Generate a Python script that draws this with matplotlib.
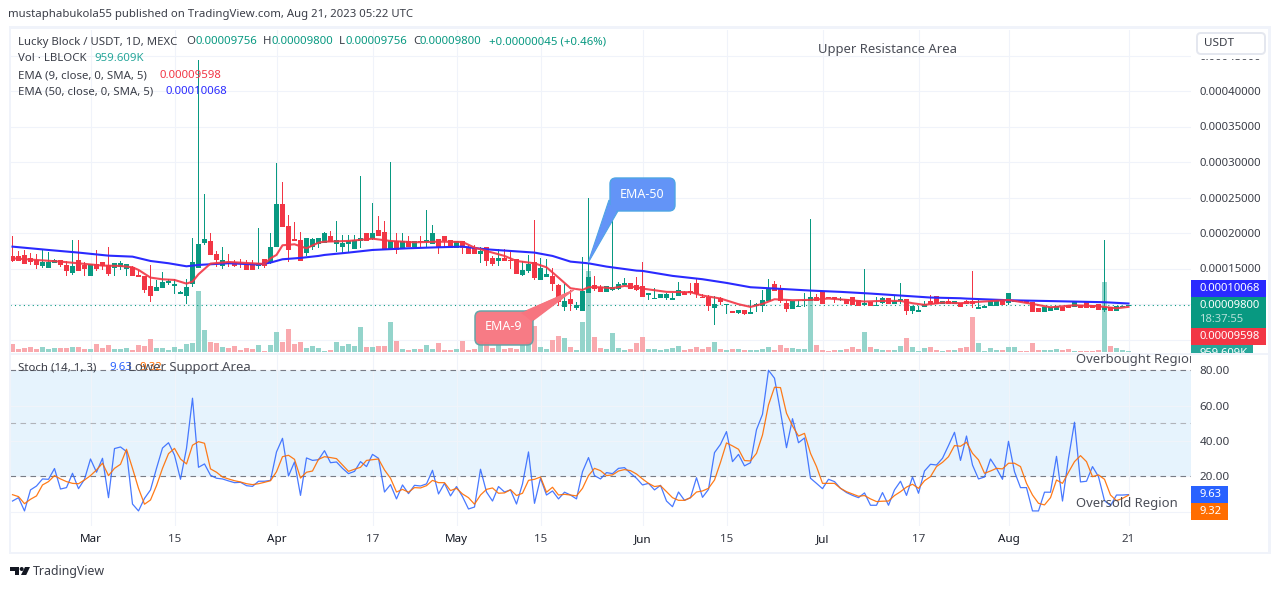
# -*- coding: utf-8 -*-
import numpy as np
import matplotlib
matplotlib.use("Agg")
from matplotlib import pyplot as plt
from matplotlib.patches import FancyBboxPatch, Polygon, Rectangle, Circle

plt.rcParams['font.family'] = ['Noto Sans', 'DejaVu Sans']

# prices are in units of 0.00001 USDT, one entry per day from 16 Feb 2023
opens = [
    16.77, 16.77, 16.91, 16.44, 16.20, 15.36, 15.08, 15.78, 16.20, 15.50,
    14.37, 16.20, 15.50, 13.95, 15.64, 15.92, 15.50, 15.08, 15.22, 14.94,
    15.22, 14.09, 13.95, 12.55, 11.84, 12.26, 12.97, 12.59, 11.42, 11.14,
    12.83, 15.08, 18.60, 18.88, 17.05, 15.36, 15.92, 15.92, 15.78, 15.64,
    15.64, 15.36, 16.34, 15.78, 18.03, 24.08, 20.99, 19.16, 19.02, 17.19,
    18.03, 18.46, 18.60, 19.58, 18.46, 18.03, 18.46, 17.75, 18.88, 20.00,
    19.16, 20.43, 20.14, 17.75, 18.88, 17.89, 18.88, 18.03, 18.88, 18.74,
    18.46, 19.16, 19.58, 19.02, 17.89, 18.88, 18.03, 18.03, 17.05, 18.03,
    16.49, 16.06, 16.49, 16.20, 16.34, 14.09, 14.66, 15.92, 13.39, 13.81,
    13.95, 12.69, 9.59, 10.72, 9.45, 9.03, 11.56, 12.69, 12.41, 11.70,
    11.98, 12.12, 12.69, 12.97, 12.69, 12.55, 11.28, 10.72, 10.86, 10.86,
    10.58, 11.14, 11.71, 11.85, 12.97, 11.00, 11.00, 9.45, 10.86, 9.88,
    9.03, 8.75, 9.17, 8.61, 9.74, 9.74, 10.44, 12.83, 12.13, 10.16,
    9.31, 9.59, 10.44, 10.44, 11.00, 11.85, 11.00, 11.00, 10.58, 10.72,
    11.00, 10.58, 9.88, 10.30, 9.74, 10.16, 10.86, 10.02, 10.44, 10.72,
    9.03, 8.89, 9.59, 10.44, 11.14, 10.02, 10.44, 10.02, 10.16, 10.43,
    10.43, 9.31, 9.45, 9.73, 9.73, 10.57, 10.15, 10.29, 10.57, 10.57,
    10.29, 9.45, 8.89, 9.03, 9.17, 9.59, 9.87, 9.59, 9.87, 10.29,
    9.87, 10.01, 9.17, 9.59, 9.03, 9.59, 9.756]
highs = [
    19.58, 17.52, 17.61, 17.19, 17.05, 17.61, 17.33, 16.34, 16.20, 16.06,
    19.02, 19.02, 15.92, 15.64, 17.61, 15.92, 18.03, 15.78, 16.06, 15.64,
    15.36, 14.80, 13.95, 15.50, 13.39, 14.52, 13.53, 13.53, 11.84, 13.53,
    19.30, 44.40, 25.49, 20.00, 17.47, 18.03, 17.05, 16.20, 16.34, 16.20,
    16.20, 20.71, 16.34, 20.00, 29.90, 27.18, 22.54, 21.55, 20.14, 19.30,
    19.30, 19.30, 20.14, 20.28, 21.69, 19.72, 19.72, 19.72, 28.00, 20.00,
    24.22, 22.39, 21.69, 30.00, 20.00, 20.00, 19.58, 18.88, 19.58, 23.24,
    21.13, 19.16, 19.58, 19.02, 18.88, 18.88, 18.31, 18.31, 18.03, 18.03,
    16.77, 17.75, 17.75, 17.61, 16.34, 16.06, 16.91, 21.83, 16.49, 16.34,
    15.08, 12.83, 12.83, 11.98, 10.29, 16.62, 24.93, 13.95, 12.69, 12.55,
    23.38, 13.11, 13.67, 12.97, 13.81, 15.93, 11.56, 12.27, 11.42, 11.56,
    11.56, 13.11, 11.85, 12.97, 13.53, 11.42, 11.28, 11.14, 11.00, 10.02,
    9.03, 9.17, 9.17, 10.58, 10.16, 11.99, 13.53, 13.25, 12.69, 10.58,
    10.44, 10.58, 11.56, 21.98, 11.42, 11.85, 11.00, 11.00, 11.00, 10.72,
    11.00, 10.58, 14.94, 10.30, 11.00, 11.00, 10.86, 11.28, 12.97, 10.72,
    9.74, 9.74, 10.44, 11.28, 11.14, 10.44, 10.86, 10.44, 10.16, 10.57,
    14.65, 10.71, 9.73, 10.43, 10.43, 10.57, 11.56, 10.57, 10.57, 10.57,
    10.29, 9.45, 9.59, 9.59, 9.73, 9.59, 9.87, 10.29, 9.87, 10.29,
    9.87, 10.01, 19.02, 9.59, 9.73, 9.73, 9.80]
lows = [
    15.92, 16.06, 15.64, 15.55, 14.94, 15.08, 15.08, 15.78, 15.22, 13.95,
    14.09, 14.66, 13.95, 13.95, 14.66, 14.80, 13.95, 13.95, 14.80, 13.95,
    13.95, 13.81, 11.51, 10.29, 11.84, 12.26, 12.64, 11.42, 11.42, 10.01,
    12.41, 15.08, 18.31, 16.91, 15.22, 14.94, 15.22, 15.22, 15.08, 14.80,
    14.80, 14.94, 15.08, 15.64, 18.03, 20.85, 15.92, 18.88, 16.06, 16.77,
    17.61, 17.89, 18.60, 18.74, 17.33, 17.19, 17.19, 17.75, 17.89, 18.88,
    19.02, 19.58, 17.75, 17.75, 17.05, 17.89, 18.03, 18.03, 17.89, 18.03,
    18.46, 17.05, 18.03, 17.89, 17.89, 17.05, 17.05, 17.05, 15.78, 15.36,
    15.36, 15.36, 16.06, 14.94, 14.23, 13.95, 14.37, 13.39, 13.39, 13.81,
    11.84, 9.73, 9.03, 9.03, 9.17, 9.03, 11.56, 11.84, 11.70, 11.70,
    11.84, 11.98, 12.55, 12.12, 11.84, 11.00, 10.58, 10.72, 10.86, 10.58,
    10.58, 11.14, 11.28, 11.28, 10.86, 10.86, 9.03, 7.06, 9.88, 8.61,
    8.75, 8.61, 8.47, 8.61, 8.89, 8.89, 10.44, 11.85, 10.16, 8.89,
    9.31, 9.59, 9.59, 10.44, 10.44, 10.02, 10.86, 10.16, 10.44, 10.02,
    9.88, 9.74, 9.88, 9.74, 9.74, 10.02, 10.02, 10.02, 10.02, 8.47,
    8.61, 8.89, 9.59, 10.02, 10.02, 10.02, 10.02, 10.02, 9.59, 10.01,
    9.45, 9.31, 9.45, 9.73, 9.73, 9.87, 9.87, 10.29, 10.29, 10.15,
    8.89, 8.89, 8.89, 9.03, 9.17, 9.03, 9.45, 9.59, 9.45, 9.45,
    9.45, 9.17, 8.89, 9.03, 9.03, 9.59, 9.756]
closes = [
    16.06, 16.06, 15.64, 15.92, 15.50, 15.87, 15.92, 16.20, 15.50, 14.66,
    15.36, 14.66, 14.94, 15.64, 14.94, 15.36, 14.23, 15.78, 15.78, 15.64,
    13.95, 13.81, 11.98, 11.14, 12.41, 13.11, 13.25, 12.78, 11.70, 12.41,
    15.92, 18.46, 19.16, 16.91, 16.20, 16.20, 15.78, 15.36, 15.64, 14.80,
    14.80, 15.78, 15.36, 18.03, 24.08, 20.85, 17.61, 18.88, 16.06, 19.30,
    19.16, 19.30, 20.00, 18.74, 19.02, 18.60, 18.88, 19.02, 19.30, 18.88,
    20.00, 19.58, 17.75, 18.88, 17.61, 18.88, 18.03, 18.88, 18.74, 19.02,
    20.00, 17.89, 18.88, 17.89, 18.88, 17.89, 17.05, 17.05, 17.47, 16.06,
    15.64, 16.49, 16.06, 16.06, 14.23, 14.80, 15.64, 13.67, 15.08, 14.23,
    12.83, 10.29, 10.44, 10.01, 9.87, 11.84, 13.81, 12.12, 11.70, 12.55,
    12.41, 12.83, 12.97, 12.12, 11.98, 11.00, 11.56, 10.86, 11.42, 11.42,
    10.86, 11.99, 11.28, 11.56, 11.42, 10.86, 9.74, 10.02, 10.30, 10.02,
    8.75, 9.17, 8.61, 8.89, 10.02, 10.58, 12.32, 11.85, 10.44, 9.31,
    10.44, 9.74, 10.58, 11.00, 10.44, 10.02, 10.86, 10.72, 10.72, 10.02,
    9.88, 9.74, 10.16, 9.74, 9.88, 10.86, 10.02, 10.44, 10.72, 9.03,
    9.74, 9.17, 10.02, 10.02, 10.02, 10.44, 10.02, 10.44, 9.59, 10.01,
    10.01, 9.59, 9.73, 10.43, 10.43, 9.87, 11.56, 10.57, 10.29, 10.15,
    8.89, 8.89, 9.59, 9.59, 9.73, 9.03, 9.45, 10.29, 9.45, 9.45,
    9.45, 9.17, 9.59, 9.03, 9.73, 9.73, 9.80]
# volume in millions
volumes = [
    7.2, 3.0, 3.6, 4.5, 2.7, 4.5, 2.7, 3.6, 3.6, 3.6,
    4.5, 4.5, 2.7, 2.7, 7.2, 3.6, 6.3, 2.7, 2.7, 3.6,
    1.8, 6.3, 5.4, 11.7, 3.6, 3.6, 1.8, 4.5, 2.7, 7.2,
    8.1, 54.9, 19.8, 9.0, 8.1, 4.5, 3.6, 5.4, 1.8, 3.6,
    2.7, 6.3, 0.9, 6.3, 18.0, 9.0, 20.7, 7.2, 9.0, 3.6,
    5.4, 3.6, 0.9, 1.8, 9.0, 5.4, 7.2, 5.4, 22.5, 4.5,
    4.5, 5.4, 5.4, 27.0, 9.9, 2.7, 1.8, 2.7, 2.7, 6.3,
    2.7, 8.1, 1.8, 1.8, 2.7, 9.9, 1.8, 2.7, 9.9, 9.0,
    3.6, 6.3, 2.7, 3.6, 2.7, 6.0, 9.0, 23.4, 4.5, 2.7,
    10.8, 14.4, 12.6, 4.5, 1.8, 27.0, 72.9, 13.5, 3.6, 2.7,
    17.1, 3.6, 1.8, 2.7, 8.1, 13.5, 2.7, 2.7, 1.8, 2.7,
    3.6, 5.4, 1.8, 2.7, 4.5, 2.7, 4.5, 9.0, 2.7, 1.8,
    2.7, 2.7, 1.8, 1.8, 1.8, 2.7, 4.5, 1.8, 6.3, 3.6,
    3.6, 2.7, 2.7, 45.9, 6.3, 1.8, 0.9, 1.8, 1.8, 2.7,
    4.5, 2.7, 18.0, 4.5, 2.7, 1.8, 1.8, 1.8, 5.4, 12.6,
    4.5, 0.9, 3.6, 4.5, 1.8, 0.9, 1.8, 1.8, 3.6, 4.5,
    31.5, 8.1, 0.9, 3.6, 1.8, 1.8, 4.5, 4.5, 0.9, 0.9,
    8.1, 1.8, 1.8, 1.8, 2.7, 1.8, 2.7, 0.9, 0.9, 0.9,
    0.9, 1.8, 63.0, 5.4, 3.6, 1.8, 0.96]

ema50_days = [0, 6, 11, 16, 20, 23, 26, 29, 31, 36, 41, 43, 45, 48, 51, 52, 56, 60, 66, 71, 75, 79,
              83, 87, 90, 93, 96, 99, 104, 105, 110, 115, 119, 123, 128, 133, 138, 143, 148, 153,
              158, 159, 166, 172, 177, 182, 186]
ema50 = [18.08, 17.61, 17.24, 16.81, 16.67, 16.06, 15.74, 15.31, 15.50, 15.74, 15.55, 15.83, 16.30,
         16.49, 16.77, 16.91, 17.24, 17.61, 17.85, 17.99, 18.08, 17.70, 17.47, 17.24, 16.77, 15.97,
         15.73, 15.27, 14.70, 14.66, 13.96, 13.49, 12.97, 12.36, 12.13, 11.89, 11.71, 11.47, 11.19,
         10.91, 10.81, 10.76, 10.53, 10.43, 10.34, 10.25, 10.07]
ema9_days = [0, 4, 8, 11, 15, 18, 20, 21, 23, 25, 27, 29, 30, 31, 33, 36, 40, 42, 43, 44, 45, 47, 49,
             51, 52, 56, 60, 63, 67, 71, 75, 77, 79, 82, 84, 87, 89, 91, 93, 95, 96, 98, 100, 102,
             104, 105, 109, 113, 115, 118, 121, 123, 125, 127, 130, 133, 136, 139, 142, 145, 148,
             150, 152, 155, 158, 160, 166, 170, 173, 177, 181, 184, 186]
ema9 = [16.44, 16.20, 15.97, 15.73, 15.41, 15.36, 15.17, 14.80, 13.72, 13.48, 13.39, 12.87, 13.15,
        14.19, 15.69, 15.92, 15.73, 15.64, 16.44, 16.91, 18.27, 18.41, 17.85, 18.64, 18.78, 18.88,
        19.20, 18.88, 18.69, 18.78, 18.74, 17.94, 17.47, 16.77, 16.06, 15.73, 15.17, 13.72, 12.22,
        11.98, 12.36, 12.36, 12.22, 12.55, 12.36, 12.17, 11.71, 11.66, 11.19, 10.77, 9.97, 9.59,
        10.02, 10.67, 10.53, 10.58, 10.77, 10.58, 10.35, 10.44, 10.44, 10.11, 9.88, 10.20, 10.11,
        10.25, 10.57, 10.01, 9.54, 9.82, 9.68, 9.40, 9.598]

stoch_k = [
    6.0, 7.9, 0.4, 12.3, 14.5, 18.5, 18.3, 24.4, 12.8, 13.6,
    21.7, 13.0, 18.3, 29.8, 22.3, 30.2, 7.9, 35.7, 36.6, 34.0,
    4.3, 0.4, 7.5, 12.3, 24.5, 36.0, 39.0, 32.0, 18.3, 35.8,
    64.2, 25.1, 27.0, 20.6, 18.9, 18.5, 17.4, 16.4, 16.6, 14.7,
    14.3, 17.2, 17.2, 17.7, 33.8, 41.5, 20.2, 28.1, 9.2, 30.4,
    29.0, 29.4, 34.5, 27.7, 28.1, 24.5, 21.5, 22.8, 28.3, 25.5,
    32.4, 30.2, 11.1, 15.3, 7.2, 15.1, 10.2, 14.9, 14.5, 15.7,
    23.4, 10.0, 16.0, 8.9, 14.2, 8.5, 1.5, 2.6, 24.0, 11.1,
    6.0, 14.2, 11.1, 12.3, 4.3, 15.7, 33.8, 4.7, 18.9, 9.4,
    11.7, 7.2, 11.0, 9.4, 7.2, 22.6, 30.6, 20.4, 18.5, 22.1,
    21.5, 24.5, 24.9, 21.7, 18.9, 15.1, 16.0, 12.3, 14.9, 6.0,
    2.8, 11.1, 6.4, 7.9, 19.2, 8.1, 12.6, 33.4, 38.1, 45.3,
    28.3, 32.4, 25.9, 27.7, 46.4, 55.1, 80.0, 75.5, 56.6, 36.2,
    52.6, 39.0, 41.7, 18.9, 16.0, 13.0, 18.3, 17.0, 13.2, 10.8,
    9.2, 7.9, 10.6, 3.6, 3.6, 10.8, 3.6, 12.3, 17.2, 9.2,
    19.6, 10.4, 23.0, 26.8, 26.4, 30.2, 37.4, 44.9, 29.0, 42.8,
    26.4, 18.5, 19.6, 29.8, 24.5, 18.3, 39.8, 22.6, 13.6, 13.6,
    0.4, 0.4, 11.0, 11.0, 31.3, 6.0, 30.2, 50.6, 16.8, 17.2,
    25.5, 19.8, 6.2, 3.4, 9.4, 9.4, 9.63]
stoch_d = [
    9.6, 8.5, 4.5, 7.0, 8.9, 15.1, 17.0, 20.4, 18.5, 17.0,
    16.0, 15.8, 17.9, 20.4, 23.6, 27.4, 20.4, 24.5, 26.8, 35.3,
    24.5, 13.2, 4.2, 6.6, 14.7, 24.5, 32.8, 35.8, 29.8, 27.0,
    37.6, 39.6, 38.7, 24.2, 22.3, 19.6, 18.5, 17.5, 16.8, 15.8,
    15.3, 15.8, 16.6, 17.5, 22.6, 31.1, 31.9, 29.6, 19.0, 22.3,
    23.0, 29.6, 31.1, 30.6, 30.0, 26.4, 22.8, 24.0, 25.1, 29.0,
    29.4, 29.8, 23.6, 18.9, 11.1, 12.6, 11.0, 13.6, 13.4, 14.7,
    17.7, 16.4, 16.4, 11.9, 13.2, 10.0, 7.9, 4.2, 9.4, 12.6,
    13.4, 10.4, 10.6, 12.4, 9.1, 10.4, 17.7, 18.3, 19.6, 11.0,
    13.8, 9.4, 9.8, 9.4, 8.9, 13.2, 20.4, 24.5, 23.2, 20.4,
    20.8, 23.0, 23.8, 23.2, 21.3, 18.5, 16.0, 14.2, 14.7, 11.3,
    7.9, 6.4, 6.4, 7.9, 11.1, 11.7, 13.2, 17.9, 27.9, 38.9,
    37.2, 35.3, 28.9, 28.7, 33.0, 43.4, 60.4, 70.4, 70.2, 55.7,
    48.5, 42.8, 44.3, 33.0, 25.5, 16.0, 16.0, 16.0, 13.2, 11.3,
    10.0, 8.7, 9.1, 7.2, 5.7, 5.9, 6.0, 9.1, 11.3, 13.9,
    15.5, 13.2, 17.5, 19.8, 25.5, 27.9, 31.1, 37.4, 37.0, 39.3,
    33.0, 29.3, 21.7, 23.0, 24.5, 24.2, 27.4, 27.4, 25.5, 16.0,
    9.4, 4.7, 3.8, 7.9, 17.9, 16.0, 22.3, 28.3, 31.7, 28.3,
    19.8, 20.8, 18.3, 9.4, 6.2, 7.5, 9.32]

date_ticks = [13, 27, 44, 60, 74, 88, 105, 119, 135, 151, 166, 186]
date_labels = ['Mar', '15', 'Apr', '17', 'May', '15', 'Jun', '15', 'Jul', '17', 'Aug', '21']
month_labels = ['Mar', 'Apr', 'May', 'Jun', 'Jul', 'Aug']
price_ticks = [5, 10, 15, 20, 25, 30, 35, 40, 45]
stoch_ticks = [0, 20, 40, 60, 80]
stoch_labels = ['', '20.00', '40.00', '60.00', '80.00']

UP = '#089981'
DOWN = '#F23645'
GRID = '#F0F3FA'
TEXT = '#3B3E48'
W, H = 1281., 589.
opens, highs, lows, closes = map(np.array, (opens, highs, lows, closes))
volumes = np.array(volumes)
days = np.arange(len(closes))


def rect(x0, y0, x1, y1):
    return [x0 / W, 1 - y1 / H, (x1 - x0) / W, (y1 - y0) / H]


fig = plt.figure(figsize=(12.81, 5.89), dpi=100, facecolor='white')

# price pane: 6 px a day, 35.5 px per 0.00005
ax = fig.add_axes(rect(10, 30, 1191, 353))
px_price = 5 / 35.5
ax.set_xlim((10 - 12.5) / 6, (1191 - 12.5) / 6)
ax.set_ylim(20 - (353 - 233) * px_price, 20 + (233 - 30) * px_price)
for s in ax.spines.values():
    s.set_visible(False)
ax.set_axisbelow(True)
ax.grid(True, color=GRID, lw=0.8)
ax.set_xticks(date_ticks)
ax.set_xticklabels([])
ax.set_yticks(price_ticks)
ax.yaxis.tick_right()
ax.set_yticklabels(['%.8f' % (v * 1e-5) for v in price_ticks])
ax.tick_params(axis='both', length=0)
ax.tick_params(axis='y', pad=6, labelsize=8.2, labelcolor=TEXT)

up = closes >= opens
# volume overlay sits at the pane bottom, 0.9M per px
vol_base = 20 - (352 - 233) * px_price
vol_scale = px_price / 0.9
ax.bar(days[up], volumes[up] * vol_scale, bottom=vol_base, width=0.83, color='#94D4CB', zorder=2)
ax.bar(days[~up], volumes[~up] * vol_scale, bottom=vol_base, width=0.83, color='#F9A9AE', zorder=2)

ax.axhline(closes[-1], color=UP, lw=0.8, ls=(0, (1, 3)), zorder=3)
for mask, col in ((up, UP), (~up, DOWN)):
    # wicks as one pixel wide bars, they come out cleaner than thin lines
    ax.bar(days[mask], (highs - lows)[mask], bottom=lows[mask], width=1 / 6., color=col, lw=0, zorder=4)
    ax.bar(days[mask], np.maximum(np.abs(closes - opens)[mask], 0.12),
           bottom=np.minimum(opens, closes)[mask], width=0.83, color=col, zorder=5)
ax.plot(ema50_days, ema50, color='#2A2AFF', lw=1.5, zorder=6)
ax.plot(ema9_days, ema9, color='#F23645', lw=1.5, alpha=0.9, zorder=7)

# stochastic pane
ax2 = fig.add_axes(rect(10, 354, 1191, 526))
px_stoch = 60 / 106.
ax2.set_xlim(ax.get_xlim())
ax2.set_ylim(80 - (526 - 370.3) * px_stoch, 80 + (370.3 - 354) * px_stoch)
for s in ax2.spines.values():
    s.set_visible(False)
ax2.set_axisbelow(True)
ax2.grid(True, color=GRID, lw=0.8)
ax2.axhspan(20, 80, color='#E6F3FD', lw=0, zorder=0.5)
ax2.set_yticks(stoch_ticks)
ax2.yaxis.tick_right()
ax2.set_yticklabels(stoch_labels)
ax2.set_xticks(date_ticks)
ax2.set_xticklabels(date_labels)
ax2.tick_params(axis='both', length=0)
ax2.tick_params(axis='y', pad=6, labelsize=8.4, labelcolor=TEXT)
ax2.tick_params(axis='x', pad=6, labelsize=8.4, labelcolor=TEXT)
for t in ax2.get_xticklabels():
    if t.get_text() in month_labels:
        t.set_color('#131722')
        t.set_fontweight('medium')
for level, col in ((80, '#787B86'), (50, '#B0B3BA'), (20, '#787B86')):
    ax2.axhline(level, color=col, lw=0.8, ls=(0, (5, 4)), zorder=2)
ax2.plot(days, stoch_k, color='#2962FF', lw=0.9, alpha=0.85, zorder=3)
ax2.plot(days, stoch_d, color='#FF6D00', lw=0.9, alpha=0.9, zorder=4)

# everything around the panes goes on a pixel overlay
ui = fig.add_axes([0, 0, 1, 1], zorder=10)
ui.set_xlim(0, W)
ui.set_ylim(H, 0)
ui.axis('off')
ui.patch.set_visible(False)


def label(x, y, s, color=TEXT, size=8.2, **kw):
    kw.setdefault('va', 'center')
    return ui.text(x, y, s, color=color, fontsize=size, **kw)


# frame
for x0, y0, x1, y1 in ((9, 26, 1271, 29), (9, 551.5, 1271, 554), (9, 26, 11, 554), (1268, 26, 1271, 554),
                       (10, 352.5, 1270, 354.5)):
    ui.add_patch(Rectangle((x0, y0), x1 - x0, y1 - y0, color=GRID, lw=0))

ui.add_patch(Rectangle((1192, 30), 75, 29, color='white', lw=0))
ui.add_patch(FancyBboxPatch((1197, 33), 68, 21, boxstyle='round,pad=0,rounding_size=4',
                            fc='white', ec='#E4E7EF', lw=1.4))
label(1204, 44, 'USDT', size=8.4)

label(8, 15, 'mustaphabukola55 published on TradingView.com, Aug 21, 2023 05:22 UTC')
label(18, 42, 'Lucky Block / USDT, 1D, MEXC')
for x, s in ((186, 'O'), (263, 'H'), (339, 'L'), (413, 'C')):
    label(x, 42, s)
for x, s in ((195, '0.00009756'), (271, '0.00009800'), (346, '0.00009756'), (420, '0.00009800'),
             (489, '+0.00000045 (+0.46%)')):
    label(x, 42, s, color=UP)
label(18, 58.5, 'Vol · LBLOCK')
label(94, 58.5, '959.609K', color='#26A69A')
label(18, 75.5, 'EMA (9, close, 0, SMA, 5)')
label(159, 75.5, '0.00009598', color=DOWN)
label(18, 92, 'EMA (50, close, 0, SMA, 5)')
label(166, 92, '0.00010068', color='#2A2AFF')
label(818, 49, 'Upper Resistance Area', color='#4A4D57', size=9.4)

# right hand tags
tag_bold = dict(color='white', fontweight='medium', size=8.1)
ui.add_patch(Rectangle((1191, 280), 75, 17, color='#2A2AFF', lw=0))
label(1199, 288.5, '0.00010068', **tag_bold)
ui.add_patch(Rectangle((1191, 297), 75, 31, color=UP, lw=0))
label(1199, 305.5, '0.00009800', **tag_bold)
label(1199, 319, '18:37:55', color='#B5E0D9', size=8.1)
ui.add_patch(Rectangle((1191, 328), 75, 17, color=DOWN, lw=0))
label(1199, 336.5, '0.00009598', **tag_bold)
vol_tag = Rectangle((1191, 345), 62, 7.5, color='#26A69A', lw=0)
ui.add_patch(vol_tag)
t = label(1199, 353, '959.609K', **tag_bold)
t.set_clip_on(True)
t.set_clip_path(vol_tag)
ui.add_patch(Rectangle((1191, 486), 37, 17, color='#2962FF', lw=0))
label(1199, 494.5, '9.63', **tag_bold)
ui.add_patch(Rectangle((1191, 503), 37, 17, color='#FF6D00', lw=0))
label(1199, 511.5, '9.32', **tag_bold)

# stochastic legend and notes
label(18, 368, 'Stoch (14, 1, 3)')
label(109, 368, '9.63', color='#2962FF')
label(139, 368, '9.32', color='#FF6D00')
label(128, 368, 'Lower Support Area', color='#4A4D57', size=9.4)
t = label(1076, 360, 'Overbought Region', color='#4A4D57', size=9.4)
t.set_clip_on(True)
t.set_clip_path(Rectangle((1070, 354), 121, 14, transform=ui.transData))
label(1076, 503, 'Oversold Region', color='#4A4D57', size=9.4)

# callouts
ui.add_patch(Polygon([(609, 200), (588, 263), (618, 211)], closed=True, fc='#6394F7', ec='#4EA5E5', lw=0.8))
ui.add_patch(FancyBboxPatch((610, 178), 65, 33, boxstyle='round,pad=0,rounding_size=6',
                            fc='#6394F7', ec='#4EA5E5', lw=1))
ui.add_patch(Polygon([(609, 204), (588, 263), (617, 210)], closed=True, fc='#6394F7', lw=0))
label(642, 194, 'EMA-50', color='white', size=9, ha='center')
ui.add_patch(Polygon([(522, 312), (577, 288), (532, 322)], closed=True, fc='#F7747F', lw=0))
ui.add_patch(FancyBboxPatch((475, 311), 58, 34, boxstyle='round,pad=0,rounding_size=6',
                            fc='#F7747F', ec='#5FA5A8', lw=1.1, alpha=0.95))
ui.add_patch(Polygon([(521, 313), (577, 288), (532, 321)], closed=True, fc='#F7747F', lw=0))
label(504, 327, 'EMA-9', color='white', size=9, ha='center')

# footer logo
ui.add_patch(Polygon([(10, 567), (19, 567), (19, 575), (15, 575), (15, 571), (10, 571)], closed=True, fc='#131722', lw=0))
ui.add_patch(Circle((21.7, 569), 2, fc='#131722', lw=0))
ui.add_patch(Polygon([(25, 567), (30, 567), (26.2, 575), (21, 575)], closed=True, fc='#131722', lw=0))
label(33, 572, 'TradingView', color='#3B3E48', size=8.9)

fig.savefig('out.png', dpi=100, facecolor='white')
